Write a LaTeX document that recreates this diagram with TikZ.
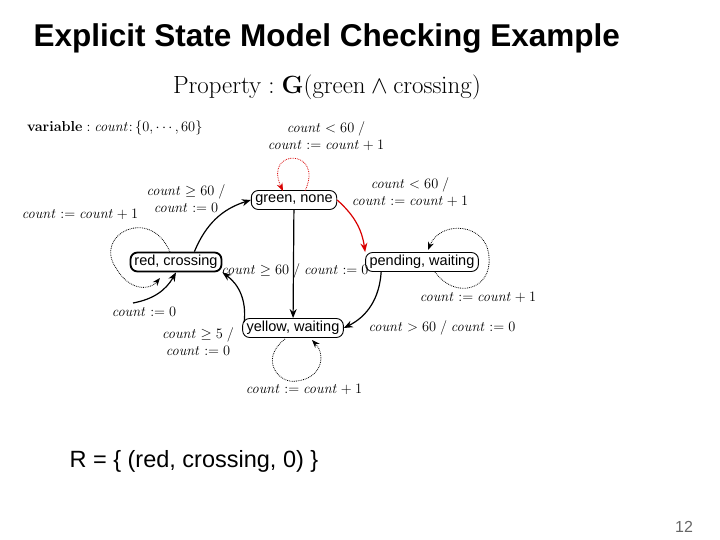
\documentclass[tikz,border=0pt]{standalone}
\usepackage[no-math]{fontspec}
\setmainfont{Liberation Sans}
\usetikzlibrary{arrows.meta}
\newcommand{\cnt}{\mathit{count}}
\begin{document}
\begin{tikzpicture}[x=1pt,y=-1pt,
  st/.style={draw,rounded corners=7pt,line width=0.9pt,inner sep=1.5pt,inner xsep=4pt,font=\fontsize{14.5}{16}\selectfont,minimum height=19pt},
  lab/.style={font=\fontsize{14}{17}\selectfont,inner sep=1pt,align=center},
  tr/.style={-{Stealth[length=9pt,width=7pt]},line width=1.2pt},
  lp/.style={densely dotted,line width=0.8pt,-{Stealth[length=8pt,width=6pt]}}]
\useasboundingbox (0,0) rectangle (720,540);
\node[anchor=west,font=\bfseries\fontsize{31.5}{34}\selectfont] (title) at (30,38) {Explicit State Model Checking Example};
\node[font=\fontsize{31}{34}\selectfont] (prop) at (327,87) {$\mathrm{Property}:\mathbf{G}(\mathrm{green}\wedge\mathrm{crossing})$};
\node[anchor=west,font=\fontsize{13.5}{15}\selectfont,inner sep=0] (var) at (27,128) {$\mathbf{variable:}\ \cnt\colon\{0,\cdots,60\}$};

\node[st] (g) at (294,200) {green, none};
\node[st,line width=1.8pt] (r) at (176,262) {red, crossing};
\node[st] (p) at (422,262) {pending, waiting};
\node[st] (y) at (293,328) {yellow, waiting};

\draw[tr] (r.north east) ++(-28,0) to[bend left=25] (g.west);
\draw[tr,red!85!black] (g.east) to[bend left=20] (p.north west);
\draw[tr] (g) -- (y);
\draw[tr] (p.south west) ++(16,0) to[bend left=30] (y.east);
\draw[tr] (y.west) ++(2,-6) to[bend right=30] (r.south east);
\coordinate (init) at (133,303);
\draw[tr] (init) to[bend right=25] (r.south);

\coordinate (gl1) at (305,191); \coordinate (gl2) at (283,191);
\draw[lp,red!85!black] (gl1) .. controls (325,148) and (263,148) .. (gl2);
\coordinate (rl1) at (170,252); \coordinate (rl2) at (116,268); \coordinate (rl3) at (160,278);
\draw[lp] (rl1) .. controls (150,205) and (93,235) .. (rl2) .. controls (130,292) and (150,290) .. (rl3);
\coordinate (pl1) at (435,272); \coordinate (pl2) at (489,257); \coordinate (pl3) at (428,250);
\draw[lp] (pl1) .. controls (455,300) and (492,290) .. (pl2) .. controls (487,222) and (440,220) .. (pl3);
\coordinate (yl1) at (285,339); \coordinate (yl2) at (297,381); \coordinate (yl3) at (312,340);
\draw[lp] (yl1) .. controls (258,360) and (280,385) .. (yl2) .. controls (322,378) and (326,355) .. (yl3);

\node[lab] (l1) at (326,136) {$\cnt<60\ /$\\$\cnt:=\cnt+1$};
\node[lab] (l2) at (186,199) {$\cnt\ge60\ /$\\$\cnt:=0$};
\node[lab] (l3) at (80,214) {$\cnt:=\cnt+1$};
\node[lab] (l4) at (410,192) {$\cnt<60\ /$\\$\cnt:=\cnt+1$};
\node[lab] (l5) at (295,271) {$\cnt\ge60\ /\ \cnt:=0$};
\node[lab] (l6) at (478,297) {$\cnt:=\cnt+1$};
\node[lab] (l7) at (442,328) {$\cnt>60\ /\ \cnt:=0$};
\node[lab] (l8) at (144,312) {$\cnt:=0$};
\node[lab] (l9) at (198,342) {$\cnt\ge5\ /$\\$\cnt:=0$};
\node[lab] (l10) at (304,389) {$\cnt:=\cnt+1$};

\node[anchor=west,font=\fontsize{23.5}{26}\selectfont] (R) at (66,461) {R = \{ (red, crossing, 0) \}};
\node[font=\fontsize{16}{18}\selectfont,text=gray!80!black] (n) at (684,527) {12};
\end{tikzpicture}
\end{document}
